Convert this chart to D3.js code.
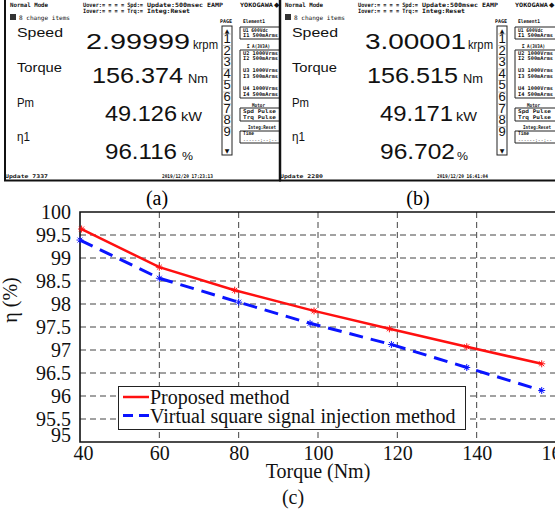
<!DOCTYPE html>
<html><head><meta charset="utf-8">
<script src="https://cdn.jsdelivr.net/npm/d3@7"></script>
<style>body{margin:0;background:#fff}svg{display:block}</style>
</head><body>
<script>
// ---- data ----
const torqueProposed = [40.4, 60, 79, 99, 118, 137.5, 156.4];
const effProposed    = [99.63, 98.80, 98.30, 97.85, 97.46, 97.07, 96.70];
const torqueVirtual  = [40, 60, 80, 98, 118.5, 137.5, 156.4];
const effVirtual     = [99.39, 98.56, 98.04, 97.58, 97.12, 96.62, 96.12];
const xTicks = [40, 60, 80, 100, 120, 140, 160];
const yTicks = [95, 95.5, 96, 96.5, 97, 97.5, 98, 98.5, 99, 99.5, 100];
const seriesNames = ["Proposed method", "Virtual square signal injection method"];
// screen readouts
const screenSpeed  = ["2.99999", "3.00001"];
const screenTorque = ["156.374", "156.515"];
const screenPower  = ["49.126", "49.171"];
const screenEff    = ["96.116", "96.702"];
const screenUpdate = ["7337", "2280"];
const screenTime   = ["2019/12/20 17:23:13", "2019/12/20 16:41:04"];
const captions = ["(a)", "(b)", "(c)"];

const W = 555, H = 511;
const svg = d3.select("body").append("svg").attr("width", W).attr("height", H);

// ---- instrument screens ----
const mono = "DejaVu Sans Mono", sans = "Liberation Sans";
function t(g, s, x, y, o) {
  const e = g.append("text").attr("x", x).attr("y", y).text(s)
    .attr("font-family", o.f || mono).attr("font-size", o.s || 6)
    .attr("font-weight", o.w || "bold").attr("fill", o.c || "#111");
  if (o.len) e.attr("textLength", o.len).attr("lengthAdjust", "spacingAndGlyphs");
  if (o.a) e.attr("text-anchor", o.a);
  return e;
}
function screen(i, dx) {
  const g = svg.append("g").attr("transform", `translate(${dx},0)`);
  g.append("rect").attr("x", 5).attr("y", 0).attr("width", 276).attr("height", 181).attr("fill", "#fff");
  // header
  t(g, "Normal Mode", 10, 7, {len: 38});
  t(g, "Uover:= = = = Spd:=", 83, 7, {len: 60});
  t(g, "Iover:= = = = Trq:=", 83, 13, {len: 60});
  t(g, "Update:500msec EAMP", 147, 7, {len: 76});
  t(g, "Integ:Reset", 147, 13, {len: 43});
  t(g, "YOKOGAWA", 240, 7, {len: 33});
  t(g, "◆", 274, 7, {s: 7, w: "normal", f: "DejaVu Sans"});
  g.append("rect").attr("x", 10).attr("y", 14).attr("width", 6).attr("height", 6).attr("fill", "#333");
  t(g, "8 change items", 19, 20, {len: 51, w: "normal"});
  // labels
  t(g, "Speed", 17, 37, {f: sans, s: 12, w: "normal", len: 46});
  t(g, "Torque", 17, 72, {f: sans, s: 12, w: "normal", len: 45});
  t(g, "Pm", 17, 107, {f: sans, s: 12, w: "normal", len: 17});
  t(g, "η1", 17, 141, {f: sans, s: 12, w: "normal", len: 13});
  // values
  const big = {f: sans, s: 22.5, w: "normal"};
  t(g, screenSpeed[i], i ? 90 : 86, 49, {...big, len: i ? 101 : 104});
  t(g, screenTorque[i], 92, 83, {...big, len: 91});
  t(g, screenPower[i], 105, 121, {...big, len: i ? 73 : 72});
  t(g, screenEff[i], 105, 159, {...big, len: i ? 75 : 72});
  t(g, "krpm", 193, 49, {f: sans, s: 12, w: "normal", len: 25});
  t(g, "Nm", 188, 83, {f: sans, s: 12, w: "normal", len: 20});
  t(g, "kW", 181, 121, {f: sans, s: 12, w: "normal", len: 21});
  t(g, "%", 182, 160, {f: sans, s: 10, w: "normal", len: 11});
  // page column
  t(g, "PAGE", 220, 23, {len: 12, s: 5});
  g.append("rect").attr("x", 222).attr("y", 26).attr("width", 10).attr("height", 129)
    .attr("fill", "none").attr("stroke", "#222").attr("stroke-width", 1);
  t(g, "▲", 227, 33, {f: "DejaVu Sans", s: 6, w: "normal", a: "middle"});
  t(g, "▼", 227, 153, {f: "DejaVu Sans", s: 6, w: "normal", a: "middle"});
  for (let k = 1; k <= 9; k++) {
    t(g, String(k), 227, 43 + (k - 1) * 11.6, {f: sans, s: 13, w: "normal", a: "middle"});
    g.append("line").attr("x1", 222).attr("x2", 232).attr("y1", 34 + (k - 1) * 11.6).attr("y2", 34 + (k - 1) * 11.6)
      .attr("stroke", "#999").attr("stroke-width", 0.5);
  }
  // right panel group boxes
  function box(y1, y2) {
    g.append("path").attr("d", `M280,${y1}H240V${y2}H280`).attr("fill", "none").attr("stroke", "#222").attr("stroke-width", 1);
  }
  t(g, "Element1", 243, 23, {len: 22, s: 5});
  box(27, 39);
  t(g, "U1  600Vdc", 243, 32, {len: 25, s: 5});
  t(g, "I1 500mArms", 243, 37, {len: 35, s: 5});
  t(g, "Σ A(3V3A)", 247, 48, {len: 23, s: 5});
  box(50, 98);
  t(g, "U2 1000Vrms", 243, 55, {len: 35, s: 5});
  t(g, "I2 500mArms", 243, 60, {len: 35, s: 5});
  t(g, "U3 1000Vrms", 243, 72, {len: 35, s: 5});
  t(g, "I3 500mArms", 243, 78, {len: 35, s: 5});
  t(g, "U4 1000Vrms", 243, 90, {len: 35, s: 5});
  t(g, "I4 500mArms", 243, 96, {len: 35, s: 5});
  t(g, "Motor", 252, 107, {len: 13, s: 5});
  box(108, 121);
  t(g, "Spd  Pulse", 243, 113, {len: 33, s: 5});
  t(g, "Trq  Pulse", 243, 119, {len: 33, s: 5});
  t(g, "Integ:Reset", 248, 129, {len: 28, s: 5});
  box(131, 143);
  t(g, "Time", 243, 135, {len: 11, s: 5});
  t(g, "------:--:--", 243, 142, {len: 34, s: 5, w: "normal"});
  // footer
  t(g, "Update  " + screenUpdate[i], 5, 178, {len: 43, s: 5});
  t(g, screenTime[i], 162, 178, {len: 51, s: 5});
  // frame
  g.append("path").attr("d", "M5,0V180.5H281").attr("fill", "none").attr("stroke", "#111").attr("stroke-width", 2);
  return g;
}
screen(0, 0);
screen(1, 275);
svg.append("line").attr("x1", 280).attr("x2", 280).attr("y1", 0).attr("y2", 181).attr("stroke", "#111").attr("stroke-width", 2.5);

const serif = "Liberation Serif";
svg.append("text").attr("x", 157).attr("y", 205).attr("text-anchor", "middle")
  .attr("font-family", serif).attr("font-size", 20).text(captions[0]);
svg.append("text").attr("x", 418).attr("y", 205).attr("text-anchor", "middle")
  .attr("font-family", serif).attr("font-size", 20).text(captions[1]);

// ---- chart ----
const x = d3.scaleLinear().domain([40, 160]).range([80, 556]);
const y = d3.scaleLinear().domain([95, 100]).range([442, 212]);
const cg = svg.append("g");

// grid
cg.append("g").selectAll("line").data(xTicks.filter(d => d > 40 && d < 160)).join("line")
  .attr("x1", d => x(d)).attr("x2", d => x(d)).attr("y1", y(100)).attr("y2", y(95))
  .attr("stroke", "#444").attr("stroke-width", 1).attr("stroke-dasharray", "6,4");
cg.append("g").selectAll("line").data(yTicks.filter(d => d > 95 && d < 100)).join("line")
  .attr("x1", x(40)).attr("x2", x(160)).attr("y1", d => y(d)).attr("y2", d => y(d))
  .attr("stroke", "#444").attr("stroke-width", 1).attr("stroke-dasharray", "6,4");

// axes
const xAxis = cg.append("g").attr("transform", `translate(0,${y(95)})`)
  .call(d3.axisBottom(x).tickValues(xTicks).tickSize(0).tickPadding(4).tickFormat(d3.format("d")));
xAxis.select(".domain").remove();
xAxis.selectAll("text").attr("font-family", serif).attr("font-size", 20).attr("fill", "#111");
xAxis.selectAll(".tick").filter(d => d === 40).select("text").attr("dx", 3);

const yAxis = cg.append("g").attr("transform", `translate(${x(40)},0)`)
  .call(d3.axisLeft(y).tickValues(yTicks).tickSize(0).tickPadding(9).tickFormat(d => d3.format("")(d)));
yAxis.select(".domain").remove();
yAxis.selectAll("text").attr("font-family", serif).attr("font-size", 20).attr("fill", "#111");
yAxis.selectAll(".tick").filter(d => d === 95).select("text").attr("dy", "-0.05em");

// frame
cg.append("path").attr("d", `M${x(160)},${y(100)}H${x(40)}V${y(95)}H${x(160)}`)
  .attr("fill", "none").attr("stroke", "#111").attr("stroke-width", 1.6);

// lines
const line = d3.line().x(d => x(d[0])).y(d => y(d[1]));
const dataP = torqueProposed.map((d, i) => [d, effProposed[i]]);
const dataV = torqueVirtual.map((d, i) => [d, effVirtual[i]]);
cg.append("path").datum(dataV).attr("d", line).attr("fill", "none")
  .attr("stroke", "#0a14ff").attr("stroke-width", 3).attr("stroke-dasharray", "14,8");
cg.append("path").datum(dataP).attr("d", line).attr("fill", "none")
  .attr("stroke", "#ff1010").attr("stroke-width", 2.5);
function star(s) {
  const r = s, q = s * 0.7;
  return `M${-r},0H${r}M0,${-r}V${r}M${-q},${-q}L${q},${q}M${-q},${q}L${q},${-q}`;
}
cg.append("g").selectAll("path").data(dataV).join("path")
  .attr("transform", d => `translate(${x(d[0])},${y(d[1])})`).attr("d", star(3.5))
  .attr("stroke", "#0a14ff").attr("stroke-width", 1).attr("fill", "none");
cg.append("g").selectAll("path").data(dataP).join("path")
  .attr("transform", d => `translate(${x(d[0])},${y(d[1])})`).attr("d", star(3.5))
  .attr("stroke", "#ff1010").attr("stroke-width", 1).attr("fill", "none");

// legend
const lg = cg.append("g");
lg.append("rect").attr("x", 118.5).attr("y", 386.5).attr("width", 347).attr("height", 43)
  .attr("fill", "#fff").attr("stroke", "#222").attr("stroke-width", 1);
[["#ff1010", null, 2.5], ["#0a14ff", "10,6", 3]].forEach((st, i) => {
  const yy = 397 + i * 18.5;
  lg.append("line").attr("x1", 123).attr("x2", 149).attr("y1", yy).attr("y2", yy)
    .attr("stroke", st[0]).attr("stroke-width", st[2]).attr("stroke-dasharray", st[1]);
  lg.append("text").attr("x", 150).attr("y", yy + 7).attr("font-family", serif)
    .attr("font-size", 20).attr("fill", "#111").text(seriesNames[i]);
});

// axis labels
cg.append("text").attr("x", 318).attr("y", 478).attr("text-anchor", "middle")
  .attr("font-family", serif).attr("font-size", 20).attr("fill", "#111").text("Torque (Nm)");
cg.append("text").attr("transform", "translate(17,300) rotate(-90)").attr("text-anchor", "middle")
  .attr("font-family", serif).attr("font-size", 20).attr("fill", "#111").text("η (%)");
svg.append("text").attr("x", 293).attr("y", 504).attr("text-anchor", "middle")
  .attr("font-family", serif).attr("font-size", 20).attr("fill", "#111").text(captions[2]);
</script>
</body></html>
